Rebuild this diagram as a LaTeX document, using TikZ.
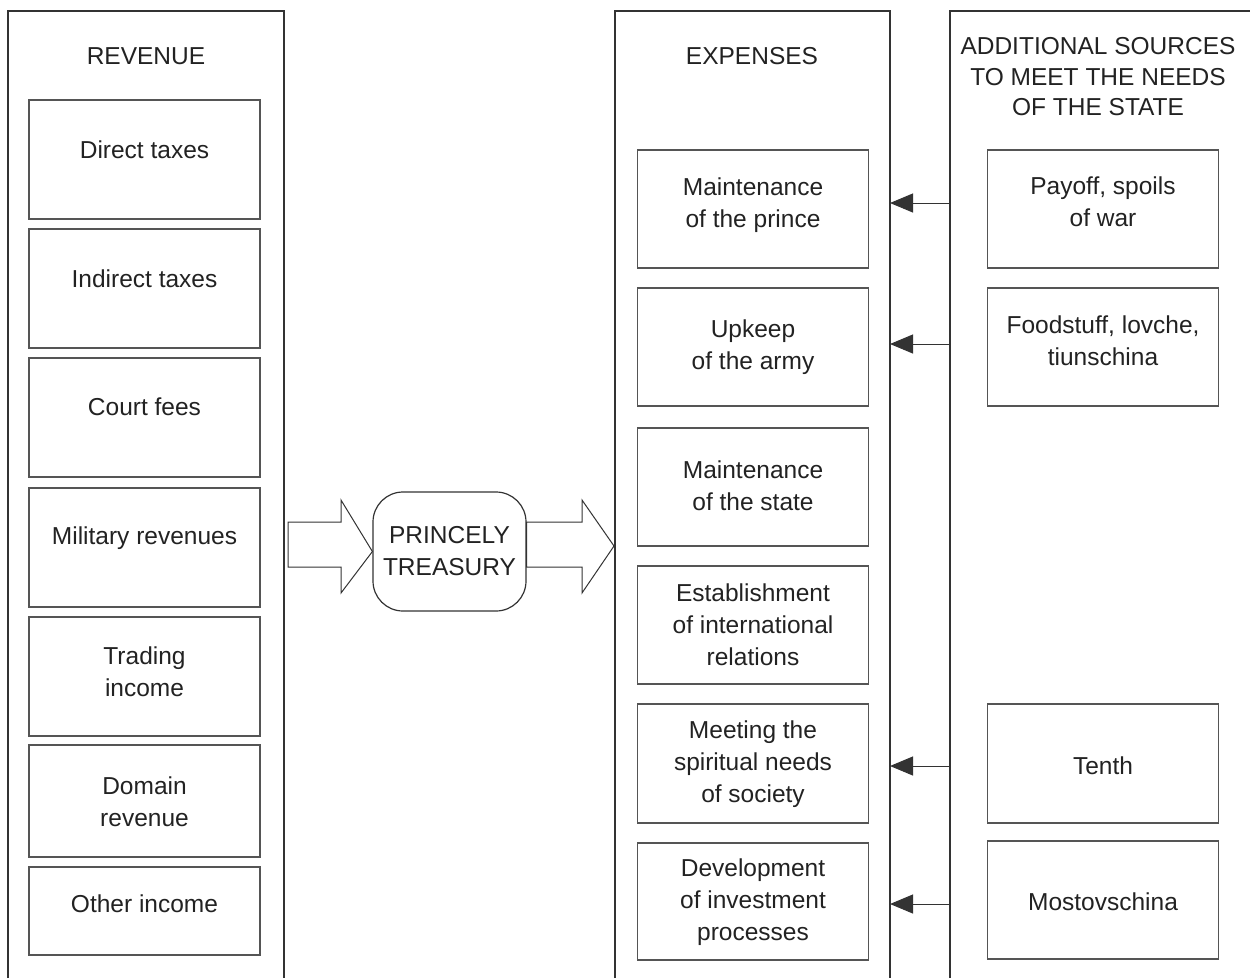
\documentclass[tikz,border=0pt]{standalone}
\usepackage{fontspec}
\setmainfont{Liberation Sans}
\usetikzlibrary{arrows.meta}
\definecolor{txtc}{HTML}{222222}
\definecolor{framec}{HTML}{333333}
\definecolor{boxc}{HTML}{555555}
\tikzset{
  frameline/.style={draw=framec, line width=1.2pt},
  boxnode/.style={draw=boxc, line width=1.2pt, minimum width=231pt, inner sep=0pt},
  txtnode/.style={text=txtc, align=center, font=\fontsize{24.5}{32}\selectfont, inner sep=0pt},
  hdrnode/.style={text=txtc, align=center, font=\fontsize{24.5}{30.5}\selectfont, inner sep=0pt},
  feedarrow/.style={draw=framec, line width=1pt, -{Triangle[length=23pt,width=19pt]}},
  blockarrow/.style={draw=framec, line width=1pt, fill=white},
  treasury/.style={draw=framec, line width=1.2pt, rounded corners=30pt, minimum width=153pt, minimum height=119pt, inner sep=0pt}
}
\begin{document}
\begin{tikzpicture}[x=1pt,y=-1pt]
\useasboundingbox (0,0) rectangle (1250,978);
% frames
\draw[frameline] (8,978) -- (8,11) -- (284,11) -- (284,978);
\draw[frameline] (615,978) -- (615,11) -- (890,11) -- (890,978);
\draw[frameline] (950,978) -- (950,11) -- (1250,11);
% headers
\node[hdrnode] (hrev) at (146,56) {REVENUE};
\node[hdrnode] (hexp) at (752,56) {EXPENSES};
\node[hdrnode] (hadd) at (1098,77) {ADDITIONAL SOURCES\\TO MEET THE NEEDS\\OF THE STATE};
% revenue boxes
\node[boxnode, minimum height=119pt] (r1) at (144.5,159.5) {};
\node[txtnode] (r1t) at (144.5,150) {Direct taxes};
\node[boxnode, minimum height=119pt] (r2) at (144.5,288.5) {};
\node[txtnode] (r2t) at (144.5,279) {Indirect taxes};
\node[boxnode, minimum height=119pt] (r3) at (144.5,417.5) {};
\node[txtnode] (r3t) at (144.5,407) {Court fees};
\node[boxnode, minimum height=119pt] (r4) at (144.5,547.5) {};
\node[txtnode] (r4t) at (144.5,538) {Military revenues};
\node[boxnode, minimum height=119pt] (r5) at (144.5,676.5) {};
\node[txtnode] (r5t) at (144.5,672) {Trading\\income};
\node[boxnode, minimum height=112pt] (r6) at (144.5,801) {};
\node[txtnode] (r6t) at (144.5,802) {Domain\\revenue};
\node[boxnode, minimum height=88pt] (r7) at (144.5,911) {};
\node[txtnode] (r7t) at (144.5,904) {Other income};
% expenses boxes
\node[boxnode, minimum height=118pt] (e1) at (753,209) {};
\node[txtnode] (e1t) at (753,205) {Maintenance\\of the prince};
\node[boxnode, minimum height=118pt] (e2) at (753,347) {};
\node[txtnode] (e2t) at (753,347) {Upkeep\\of the army};
\node[boxnode, minimum height=118pt] (e3) at (753,487) {};
\node[txtnode] (e3t) at (753,486) {Maintenance\\of the state};
\node[boxnode, minimum height=118pt] (e4) at (753,625) {};
\node[txtnode] (e4t) at (753,625) {Establishment\\of international\\relations};
\node[boxnode, minimum height=119pt] (e5) at (753,763.5) {};
\node[txtnode] (e5t) at (753,764) {Meeting the\\spiritual needs\\of society};
\node[boxnode, minimum height=117pt] (e6) at (753,901.5) {};
\node[txtnode] (e6t) at (753,902) {Development\\of investment\\processes};
% additional boxes
\node[boxnode, minimum height=118pt] (a1) at (1103,209) {};
\node[txtnode] (a1t) at (1103,202) {Payoff, spoils\\of war};
\node[boxnode, minimum height=118pt] (a2) at (1103,347) {};
\node[txtnode] (a2t) at (1103,341) {Foodstuff, lovche,\\tiunschina};
\node[boxnode, minimum height=119pt] (a3) at (1103,763.5) {};
\node[txtnode] (a3t) at (1103,766) {Tenth};
\node[boxnode, minimum height=118pt] (a4) at (1103,900) {};
\node[txtnode] (a4t) at (1103,902) {Mostovschina};
% feed arrows
\coordinate (s1) at (950,203); \coordinate (t1) at (890,203);
\coordinate (s2) at (950,344); \coordinate (t2) at (890,344);
\coordinate (s3) at (950,766); \coordinate (t3) at (890,766);
\coordinate (s4) at (950,904); \coordinate (t4) at (890,904);
\draw[feedarrow] (s1) -- (t1);
\draw[feedarrow] (s2) -- (t2);
\draw[feedarrow] (s3) -- (t3);
\draw[feedarrow] (s4) -- (t4);
% treasury
\node[treasury, txtnode, draw=framec, line width=1.2pt] (tr) at (449.5,551.5) {PRINCELY\\TREASURY};
% block arrows
\draw[blockarrow] (288,522) -- (341,522) -- (341,500) -- (tr.west) -- (341,593) -- (341,567) -- (288,567) -- cycle;
\draw[blockarrow] (tr.east |- 0,522) -- (582,522) -- (582,500) -- (614,546) -- (582,593) -- (582,567) -- (tr.east |- 0,567) -- cycle;
\end{tikzpicture}
\end{document}
